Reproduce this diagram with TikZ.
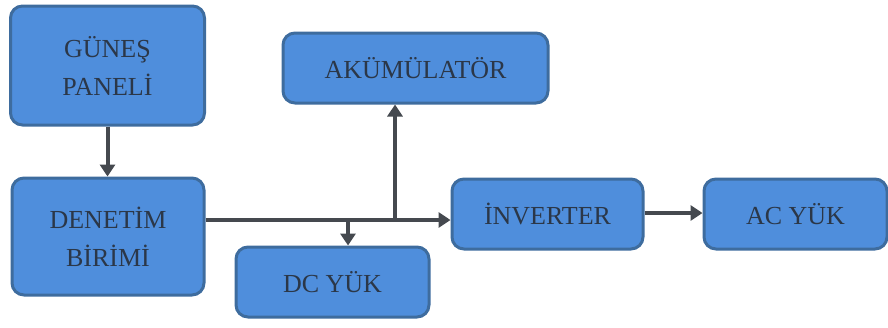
\documentclass[tikz,border=0pt]{standalone}
\usepackage{fontspec}
\setmainfont{Liberation Serif}
\usetikzlibrary{arrows.meta}
\definecolor{boxfill}{HTML}{4F8EDC}
\definecolor{boxline}{HTML}{3E6C9E}
\definecolor{boxtext}{HTML}{2B3748}
\definecolor{wire}{HTML}{45494F}
\tikzset{
  block/.style={draw=boxline, line width=3pt, fill=boxfill, rounded corners=12pt,
    text=boxtext, align=center, inner sep=0pt,
    font=\fontsize{26}{38}\selectfont},
  arr/.style={draw=wire, line width=4pt, -{Triangle[width=15pt,length=12pt]}}
}
\begin{document}
\begin{tikzpicture}[x=1pt,y=-1pt]
\useasboundingbox (0,0) rectangle (888,327);
% blocks
\node[block, minimum width=194pt, minimum height=119pt] (gunes) at (107.5,65.5) {GÜNEŞ\\PANELİ};
\node[block, minimum width=192pt, minimum height=117pt] (denetim) at (108,236.5) {DENETİM\\BİRİMİ};
\node[block, minimum width=265pt, minimum height=70pt] (aku) at (415.5,68) {AKÜMÜLATÖR};
\node[block, minimum width=193pt, minimum height=70pt] (dc) at (332.5,282) {DC YÜK};
\node[block, minimum width=191pt, minimum height=70pt] (inv) at (547.5,214) {İNVERTER};
\node[block, minimum width=183pt, minimum height=70pt] (ac) at (795.5,214) {AC YÜK};
% junctions on the main bus
\coordinate (j1) at (348,220);
\coordinate (j2) at (395,220);
% connectors
\draw[arr] (gunes.south) -- (gunes.south |- denetim.north);
\draw[arr] (denetim.east |- j1) -- (inv.west |- j1);
\draw[arr] (j1) -- (j1 |- dc.north);
\draw[arr] (j2) -- (j2 |- aku.south);
\draw[arr] (inv.east |- 0,213) -- (ac.west |- 0,213);
\end{tikzpicture}
\end{document}
